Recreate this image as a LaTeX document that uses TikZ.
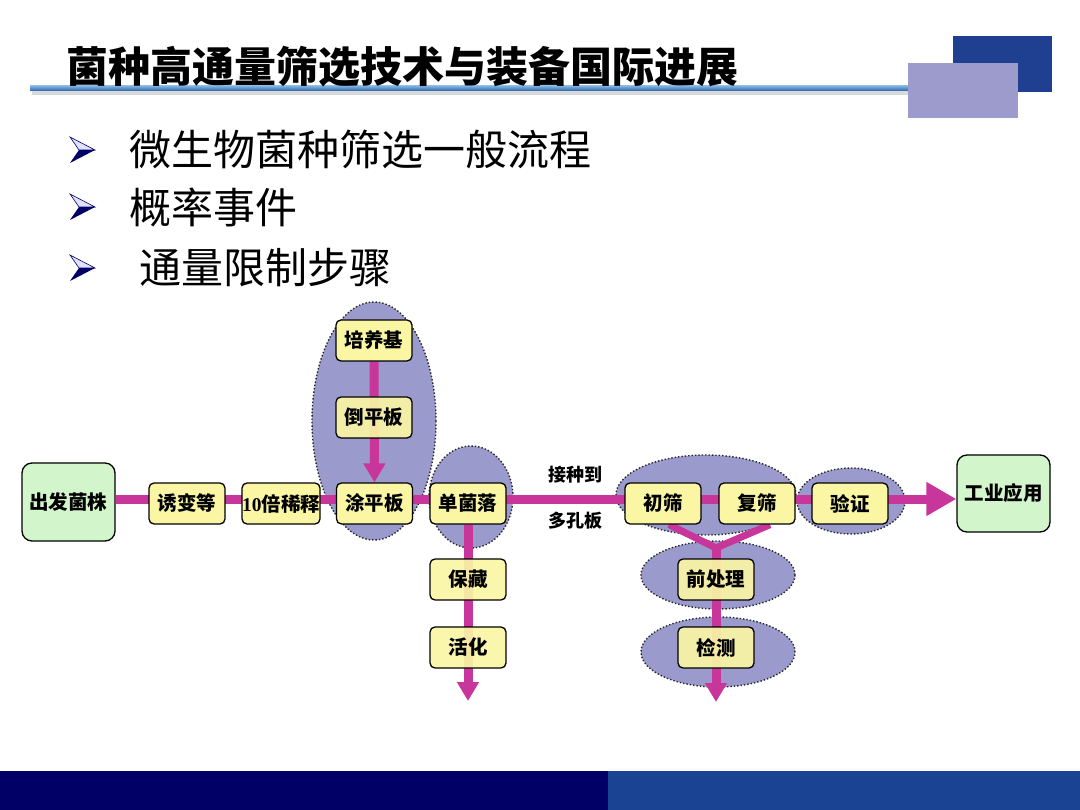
\documentclass[tikz,border=0pt]{standalone}
\usepackage{fontspec}
\newfontfamily\cjk{Noto Sans CJK SC}
\newfontfamily\serifnum{Liberation Serif}
\usetikzlibrary{arrows.meta}
\definecolor{ylw}{HTML}{FAF6A4}
\definecolor{grn}{HTML}{D2F5CC}
\definecolor{lav}{HTML}{9B9ACC}
\definecolor{mag}{HTML}{C8369C}
\definecolor{navy}{HTML}{000066}
\definecolor{blu}{HTML}{1B4394}
\definecolor{sq}{HTML}{1F3F91}
\definecolor{sqlav}{HTML}{9C9BCB}
\definecolor{rulea}{HTML}{7FB0E0}
\definecolor{ruleb}{HTML}{2563A8}
\pgfdeclarelayer{bg}
\pgfdeclarelayer{lines}
\pgfsetlayers{bg,lines,main}
\begin{document}
\begin{tikzpicture}[x=1pt,y=-1pt,
 box/.style={draw=black, line width=1.3pt, rounded corners=5pt, fill=ylw, minimum width=76pt, minimum height=41pt, inner sep=0pt, font=\cjk\bfseries\fontsize{19.5}{19.5}\selectfont},
 seethru/.style={fill opacity=0.92, text opacity=1},
 gbox/.style={box, fill=grn, minimum width=93pt, minimum height=77pt, rounded corners=10pt},
 grp/.style={fill=lav, draw=black!85, dotted, line width=1.4pt},
 flow/.style={draw=mag, line width=9pt},
 thinflow/.style={draw=mag, line width=7pt},
 bigtip/.style={-{Triangle[length=30pt,width=32pt]}},
 smalltip/.style={-{Triangle[length=19pt,width=21pt]}},
 lbl/.style={font=\cjk\bfseries\fontsize{18}{18}\selectfont, inner sep=0pt},
 bul/.style={anchor=west, inner sep=0pt, font=\cjk\fontsize{42}{42}\selectfont}
]
\useasboundingbox (0,0) rectangle (1080,810);

% groups
\begin{pgfonlayer}{bg}
\fill[white] (0,0) rectangle (1080,810);
\draw[grp] (374,421) ellipse [x radius=62pt, y radius=119pt];
\draw[grp] (471,497) ellipse [x radius=42pt, y radius=51pt];
\draw[grp] (706,495) ellipse [x radius=90pt, y radius=40pt];
\draw[grp] (851,501) ellipse [x radius=54pt, y radius=33pt];
\draw[grp] (718,575) ellipse [x radius=77pt, y radius=34pt];
\draw[grp] (718,652) ellipse [x radius=77pt, y radius=35pt];
\end{pgfonlayer}

% header
\fill[sq] (953,36) rectangle (1052,92);
\fill[gray!30] (32,91) rectangle (908,95);
\shade[top color=rulea, bottom color=ruleb] (30,86) rectangle (908,91);
\fill[sqlav] (908,63) rectangle (1018,118);
\node[anchor=west, inner sep=0pt, font=\cjk\bfseries\fontsize{42}{42}\selectfont] (title) at (66,67) {菌种高通量筛选技术与装备国际进展};

% bullets
\foreach \yy/\nm in {150/b1, 207/b2, 268/b3}{
  \fill[navy] (70,\yy+13) -- (95,\yy) -- (79,\yy) -- cycle;
  \filldraw[fill=blue!12, draw=navy, line width=0.6pt] (70,\yy-13) -- (95,\yy) -- (79,\yy) -- cycle;
}
\node[bul] (t1) at (129,150) {微生物菌种筛选一般流程};
\node[bul] (t2) at (129,207) {概率事件};
\node[bul] (t3) at (139,268) {通量限制步骤};

% nodes
\node[gbox, minimum height=78pt] (start) at (68.5,502) {出发菌株};
\node[box] (yb) at (187,503.5) {诱变等};
\node[box, minimum width=78pt] (xs) at (281,503.5) {{\serifnum\bfseries 10}倍稀释};
\node[box] (tp) at (374.5,503.5) {涂平板};
\node[box] (dj) at (468,503.5) {单菌落};
\node[box] (pyj) at (374,340.5) {培养基};
\node[box, seethru] (dpb) at (374,417.5) {倒平板};
\node[box, seethru] (bc) at (468,579.5) {保藏};
\node[box, seethru] (hh) at (468,647.5) {活化};
\node[box] (cs) at (663,503.5) {初筛};
\node[box] (fs) at (757,503.5) {复筛};
\node[box] (yz) at (850,503.5) {验证};
\node[box, seethru] (qcl) at (716,579.5) {前处理};
\node[box, seethru] (jc) at (716,647.5) {检测};
\node[gbox] (gy) at (1003.5,493.5) {工业应用};
\node[lbl] (l1) at (575,475) {接种到};
\node[lbl] (l2) at (575,521) {多孔板};

\coordinate (mainy) at (0,499);
\coordinate (yj) at (716,548);
\coordinate (end1) at (468,701);
\coordinate (end2) at (716,702);

% connectors
\begin{pgfonlayer}{lines}
\draw[flow, bigtip] (start.east |- mainy) -- (gy.west |- mainy);
\draw[flow, smalltip] (pyj.south) -- (tp.north);
\draw[flow, smalltip] (dj.south) -- (end1);
\draw[thinflow] ([xshift=6pt]cs.south) -- (yj);
\draw[thinflow] ([xshift=13pt]fs.south) -- (yj);
\draw[flow, smalltip] (yj) -- (end2);
\end{pgfonlayer}

% footer
\fill[navy] (0,771) rectangle (608,810);
\fill[blu] (608,771) rectangle (1080,810);
\end{tikzpicture}
\end{document}
